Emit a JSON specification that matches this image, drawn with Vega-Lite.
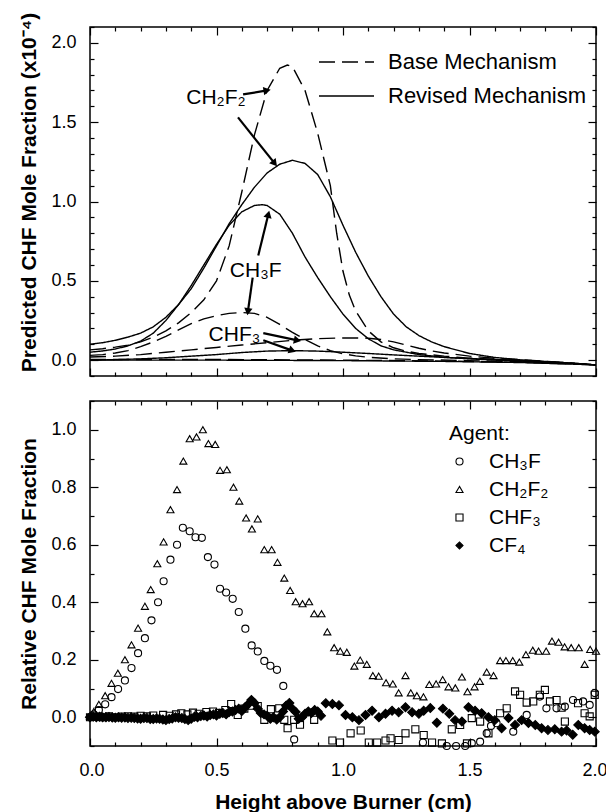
{
  "$schema": "https://vega.github.io/schema/vega-lite/v6.json",
  "background": "white",
  "padding": {"left": 18, "top": 11, "right": 5, "bottom": 0},
  "bounds": "flush",
  "spacing": 25,
  "config": {
    "font": "Liberation Sans",
    "view": {"stroke": "black", "strokeWidth": 1.5},
    "axis": {"domain": false, "grid": false, "tickColor": "black", "tickWidth": 1.2, "labelColor": "black", "titleColor": "black", "labelFont": "Liberation Sans", "titleFont": "Liberation Sans", "labelFontSize": 18, "titleFontSize": 21, "titleFontWeight": "bold", "labelFlush": false, "labelOverlap": false},
    "legend": {"labelFont": "Liberation Sans", "titleFont": "Liberation Sans", "labelColor": "black", "titleColor": "black", "labelLimit": 400}
  },
  "datasets": {
    "curves": [
      {"agent":"CH2F2","mech":"Base Mechanism","x":0,"y":0.065},{"agent":"CH2F2","mech":"Base Mechanism","x":0.05,"y":0.072},{"agent":"CH2F2","mech":"Base Mechanism","x":0.1,"y":0.082},{"agent":"CH2F2","mech":"Base Mechanism","x":0.15,"y":0.095},{"agent":"CH2F2","mech":"Base Mechanism","x":0.2,"y":0.115},{"agent":"CH2F2","mech":"Base Mechanism","x":0.25,"y":0.145},{"agent":"CH2F2","mech":"Base Mechanism","x":0.3,"y":0.185},{"agent":"CH2F2","mech":"Base Mechanism","x":0.35,"y":0.235},{"agent":"CH2F2","mech":"Base Mechanism","x":0.4,"y":0.3},{"agent":"CH2F2","mech":"Base Mechanism","x":0.45,"y":0.38},{"agent":"CH2F2","mech":"Base Mechanism","x":0.5,"y":0.5},{"agent":"CH2F2","mech":"Base Mechanism","x":0.55,"y":0.72},{"agent":"CH2F2","mech":"Base Mechanism","x":0.6,"y":1.06},{"agent":"CH2F2","mech":"Base Mechanism","x":0.65,"y":1.42},{"agent":"CH2F2","mech":"Base Mechanism","x":0.7,"y":1.7},{"agent":"CH2F2","mech":"Base Mechanism","x":0.75,"y":1.84},{"agent":"CH2F2","mech":"Base Mechanism","x":0.78,"y":1.86},{"agent":"CH2F2","mech":"Base Mechanism","x":0.8,"y":1.85},{"agent":"CH2F2","mech":"Base Mechanism","x":0.85,"y":1.7},{"agent":"CH2F2","mech":"Base Mechanism","x":0.9,"y":1.43},{"agent":"CH2F2","mech":"Base Mechanism","x":0.95,"y":1.1},{"agent":"CH2F2","mech":"Base Mechanism","x":0.975,"y":0.8},{"agent":"CH2F2","mech":"Base Mechanism","x":1.0,"y":0.56},{"agent":"CH2F2","mech":"Base Mechanism","x":1.025,"y":0.41},{"agent":"CH2F2","mech":"Base Mechanism","x":1.05,"y":0.31},{"agent":"CH2F2","mech":"Base Mechanism","x":1.1,"y":0.185},{"agent":"CH2F2","mech":"Base Mechanism","x":1.15,"y":0.115},{"agent":"CH2F2","mech":"Base Mechanism","x":1.2,"y":0.078},{"agent":"CH2F2","mech":"Base Mechanism","x":1.25,"y":0.056},{"agent":"CH2F2","mech":"Base Mechanism","x":1.3,"y":0.042},{"agent":"CH2F2","mech":"Base Mechanism","x":1.4,"y":0.025},{"agent":"CH2F2","mech":"Base Mechanism","x":1.5,"y":0.013},{"agent":"CH2F2","mech":"Base Mechanism","x":1.6,"y":0.005},{"agent":"CH2F2","mech":"Base Mechanism","x":1.7,"y":-0.003},{"agent":"CH2F2","mech":"Base Mechanism","x":1.8,"y":-0.01},{"agent":"CH2F2","mech":"Base Mechanism","x":1.9,"y":-0.02},{"agent":"CH2F2","mech":"Base Mechanism","x":2.0,"y":-0.03},
      {"agent":"CH2F2","mech":"Revised Mechanism","x":0,"y":0.1},{"agent":"CH2F2","mech":"Revised Mechanism","x":0.05,"y":0.11},{"agent":"CH2F2","mech":"Revised Mechanism","x":0.1,"y":0.125},{"agent":"CH2F2","mech":"Revised Mechanism","x":0.15,"y":0.145},{"agent":"CH2F2","mech":"Revised Mechanism","x":0.2,"y":0.17},{"agent":"CH2F2","mech":"Revised Mechanism","x":0.25,"y":0.21},{"agent":"CH2F2","mech":"Revised Mechanism","x":0.3,"y":0.27},{"agent":"CH2F2","mech":"Revised Mechanism","x":0.35,"y":0.35},{"agent":"CH2F2","mech":"Revised Mechanism","x":0.4,"y":0.45},{"agent":"CH2F2","mech":"Revised Mechanism","x":0.45,"y":0.58},{"agent":"CH2F2","mech":"Revised Mechanism","x":0.5,"y":0.72},{"agent":"CH2F2","mech":"Revised Mechanism","x":0.55,"y":0.86},{"agent":"CH2F2","mech":"Revised Mechanism","x":0.6,"y":0.98},{"agent":"CH2F2","mech":"Revised Mechanism","x":0.65,"y":1.09},{"agent":"CH2F2","mech":"Revised Mechanism","x":0.7,"y":1.18},{"agent":"CH2F2","mech":"Revised Mechanism","x":0.75,"y":1.235},{"agent":"CH2F2","mech":"Revised Mechanism","x":0.8,"y":1.26},{"agent":"CH2F2","mech":"Revised Mechanism","x":0.85,"y":1.24},{"agent":"CH2F2","mech":"Revised Mechanism","x":0.9,"y":1.17},{"agent":"CH2F2","mech":"Revised Mechanism","x":0.95,"y":1.03},{"agent":"CH2F2","mech":"Revised Mechanism","x":1.0,"y":0.85},{"agent":"CH2F2","mech":"Revised Mechanism","x":1.05,"y":0.68},{"agent":"CH2F2","mech":"Revised Mechanism","x":1.1,"y":0.53},{"agent":"CH2F2","mech":"Revised Mechanism","x":1.15,"y":0.4},{"agent":"CH2F2","mech":"Revised Mechanism","x":1.2,"y":0.29},{"agent":"CH2F2","mech":"Revised Mechanism","x":1.25,"y":0.21},{"agent":"CH2F2","mech":"Revised Mechanism","x":1.3,"y":0.155},{"agent":"CH2F2","mech":"Revised Mechanism","x":1.35,"y":0.115},{"agent":"CH2F2","mech":"Revised Mechanism","x":1.4,"y":0.085},{"agent":"CH2F2","mech":"Revised Mechanism","x":1.5,"y":0.042},{"agent":"CH2F2","mech":"Revised Mechanism","x":1.6,"y":0.017},{"agent":"CH2F2","mech":"Revised Mechanism","x":1.7,"y":0.002},{"agent":"CH2F2","mech":"Revised Mechanism","x":1.8,"y":-0.008},{"agent":"CH2F2","mech":"Revised Mechanism","x":1.9,"y":-0.018},{"agent":"CH2F2","mech":"Revised Mechanism","x":2.0,"y":-0.03},
      {"agent":"CH3F","mech":"Revised Mechanism","x":0,"y":0.05},{"agent":"CH3F","mech":"Revised Mechanism","x":0.05,"y":0.058},{"agent":"CH3F","mech":"Revised Mechanism","x":0.1,"y":0.07},{"agent":"CH3F","mech":"Revised Mechanism","x":0.15,"y":0.09},{"agent":"CH3F","mech":"Revised Mechanism","x":0.2,"y":0.12},{"agent":"CH3F","mech":"Revised Mechanism","x":0.25,"y":0.17},{"agent":"CH3F","mech":"Revised Mechanism","x":0.3,"y":0.25},{"agent":"CH3F","mech":"Revised Mechanism","x":0.35,"y":0.35},{"agent":"CH3F","mech":"Revised Mechanism","x":0.4,"y":0.47},{"agent":"CH3F","mech":"Revised Mechanism","x":0.45,"y":0.6},{"agent":"CH3F","mech":"Revised Mechanism","x":0.5,"y":0.73},{"agent":"CH3F","mech":"Revised Mechanism","x":0.55,"y":0.85},{"agent":"CH3F","mech":"Revised Mechanism","x":0.6,"y":0.935},{"agent":"CH3F","mech":"Revised Mechanism","x":0.65,"y":0.975},{"agent":"CH3F","mech":"Revised Mechanism","x":0.68,"y":0.98},{"agent":"CH3F","mech":"Revised Mechanism","x":0.7,"y":0.975},{"agent":"CH3F","mech":"Revised Mechanism","x":0.75,"y":0.92},{"agent":"CH3F","mech":"Revised Mechanism","x":0.8,"y":0.8},{"agent":"CH3F","mech":"Revised Mechanism","x":0.85,"y":0.65},{"agent":"CH3F","mech":"Revised Mechanism","x":0.9,"y":0.52},{"agent":"CH3F","mech":"Revised Mechanism","x":0.95,"y":0.4},{"agent":"CH3F","mech":"Revised Mechanism","x":1.0,"y":0.29},{"agent":"CH3F","mech":"Revised Mechanism","x":1.05,"y":0.2},{"agent":"CH3F","mech":"Revised Mechanism","x":1.1,"y":0.135},{"agent":"CH3F","mech":"Revised Mechanism","x":1.15,"y":0.09},{"agent":"CH3F","mech":"Revised Mechanism","x":1.2,"y":0.065},{"agent":"CH3F","mech":"Revised Mechanism","x":1.3,"y":0.035},{"agent":"CH3F","mech":"Revised Mechanism","x":1.4,"y":0.018},{"agent":"CH3F","mech":"Revised Mechanism","x":1.5,"y":0.008},{"agent":"CH3F","mech":"Revised Mechanism","x":1.6,"y":0},{"agent":"CH3F","mech":"Revised Mechanism","x":1.7,"y":-0.006},{"agent":"CH3F","mech":"Revised Mechanism","x":1.8,"y":-0.012},{"agent":"CH3F","mech":"Revised Mechanism","x":1.9,"y":-0.02},{"agent":"CH3F","mech":"Revised Mechanism","x":2.0,"y":-0.03},
      {"agent":"CH3F","mech":"Base Mechanism","x":0,"y":0.03},{"agent":"CH3F","mech":"Base Mechanism","x":0.05,"y":0.035},{"agent":"CH3F","mech":"Base Mechanism","x":0.1,"y":0.045},{"agent":"CH3F","mech":"Base Mechanism","x":0.15,"y":0.06},{"agent":"CH3F","mech":"Base Mechanism","x":0.2,"y":0.085},{"agent":"CH3F","mech":"Base Mechanism","x":0.25,"y":0.115},{"agent":"CH3F","mech":"Base Mechanism","x":0.3,"y":0.15},{"agent":"CH3F","mech":"Base Mechanism","x":0.35,"y":0.19},{"agent":"CH3F","mech":"Base Mechanism","x":0.4,"y":0.23},{"agent":"CH3F","mech":"Base Mechanism","x":0.45,"y":0.26},{"agent":"CH3F","mech":"Base Mechanism","x":0.5,"y":0.28},{"agent":"CH3F","mech":"Base Mechanism","x":0.55,"y":0.295},{"agent":"CH3F","mech":"Base Mechanism","x":0.6,"y":0.3},{"agent":"CH3F","mech":"Base Mechanism","x":0.65,"y":0.295},{"agent":"CH3F","mech":"Base Mechanism","x":0.7,"y":0.27},{"agent":"CH3F","mech":"Base Mechanism","x":0.75,"y":0.225},{"agent":"CH3F","mech":"Base Mechanism","x":0.8,"y":0.175},{"agent":"CH3F","mech":"Base Mechanism","x":0.85,"y":0.13},{"agent":"CH3F","mech":"Base Mechanism","x":0.9,"y":0.09},{"agent":"CH3F","mech":"Base Mechanism","x":0.95,"y":0.06},{"agent":"CH3F","mech":"Base Mechanism","x":1.0,"y":0.04},{"agent":"CH3F","mech":"Base Mechanism","x":1.05,"y":0.027},{"agent":"CH3F","mech":"Base Mechanism","x":1.1,"y":0.018},{"agent":"CH3F","mech":"Base Mechanism","x":1.2,"y":0.008},{"agent":"CH3F","mech":"Base Mechanism","x":1.3,"y":0.003},{"agent":"CH3F","mech":"Base Mechanism","x":1.5,"y":-0.003},{"agent":"CH3F","mech":"Base Mechanism","x":1.7,"y":-0.01},{"agent":"CH3F","mech":"Base Mechanism","x":1.85,"y":-0.018},{"agent":"CH3F","mech":"Base Mechanism","x":2.0,"y":-0.03},
      {"agent":"CHF3","mech":"Base Mechanism","x":0,"y":0.02},{"agent":"CHF3","mech":"Base Mechanism","x":0.1,"y":0.025},{"agent":"CHF3","mech":"Base Mechanism","x":0.2,"y":0.035},{"agent":"CHF3","mech":"Base Mechanism","x":0.3,"y":0.05},{"agent":"CHF3","mech":"Base Mechanism","x":0.4,"y":0.065},{"agent":"CHF3","mech":"Base Mechanism","x":0.5,"y":0.08},{"agent":"CHF3","mech":"Base Mechanism","x":0.6,"y":0.095},{"agent":"CHF3","mech":"Base Mechanism","x":0.7,"y":0.11},{"agent":"CHF3","mech":"Base Mechanism","x":0.8,"y":0.125},{"agent":"CHF3","mech":"Base Mechanism","x":0.9,"y":0.135},{"agent":"CHF3","mech":"Base Mechanism","x":1.0,"y":0.14},{"agent":"CHF3","mech":"Base Mechanism","x":1.05,"y":0.14},{"agent":"CHF3","mech":"Base Mechanism","x":1.1,"y":0.138},{"agent":"CHF3","mech":"Base Mechanism","x":1.15,"y":0.13},{"agent":"CHF3","mech":"Base Mechanism","x":1.2,"y":0.115},{"agent":"CHF3","mech":"Base Mechanism","x":1.25,"y":0.095},{"agent":"CHF3","mech":"Base Mechanism","x":1.3,"y":0.075},{"agent":"CHF3","mech":"Base Mechanism","x":1.35,"y":0.058},{"agent":"CHF3","mech":"Base Mechanism","x":1.4,"y":0.045},{"agent":"CHF3","mech":"Base Mechanism","x":1.5,"y":0.025},{"agent":"CHF3","mech":"Base Mechanism","x":1.6,"y":0.012},{"agent":"CHF3","mech":"Base Mechanism","x":1.7,"y":0.003},{"agent":"CHF3","mech":"Base Mechanism","x":1.8,"y":-0.008},{"agent":"CHF3","mech":"Base Mechanism","x":1.9,"y":-0.018},{"agent":"CHF3","mech":"Base Mechanism","x":2.0,"y":-0.03},
      {"agent":"CHF3","mech":"Revised Mechanism","x":0,"y":0},{"agent":"CHF3","mech":"Revised Mechanism","x":0.1,"y":0.003},{"agent":"CHF3","mech":"Revised Mechanism","x":0.2,"y":0.008},{"agent":"CHF3","mech":"Revised Mechanism","x":0.3,"y":0.015},{"agent":"CHF3","mech":"Revised Mechanism","x":0.4,"y":0.025},{"agent":"CHF3","mech":"Revised Mechanism","x":0.5,"y":0.035},{"agent":"CHF3","mech":"Revised Mechanism","x":0.6,"y":0.048},{"agent":"CHF3","mech":"Revised Mechanism","x":0.7,"y":0.057},{"agent":"CHF3","mech":"Revised Mechanism","x":0.8,"y":0.06},{"agent":"CHF3","mech":"Revised Mechanism","x":0.9,"y":0.057},{"agent":"CHF3","mech":"Revised Mechanism","x":1.0,"y":0.05},{"agent":"CHF3","mech":"Revised Mechanism","x":1.1,"y":0.042},{"agent":"CHF3","mech":"Revised Mechanism","x":1.2,"y":0.033},{"agent":"CHF3","mech":"Revised Mechanism","x":1.3,"y":0.025},{"agent":"CHF3","mech":"Revised Mechanism","x":1.4,"y":0.017},{"agent":"CHF3","mech":"Revised Mechanism","x":1.5,"y":0.01},{"agent":"CHF3","mech":"Revised Mechanism","x":1.6,"y":0.004},{"agent":"CHF3","mech":"Revised Mechanism","x":1.7,"y":-0.002},{"agent":"CHF3","mech":"Revised Mechanism","x":1.8,"y":-0.01},{"agent":"CHF3","mech":"Revised Mechanism","x":1.9,"y":-0.02},{"agent":"CHF3","mech":"Revised Mechanism","x":2.0,"y":-0.03},
      {"agent":"CF4","mech":"Revised Mechanism","x":0,"y":0},{"agent":"CF4","mech":"Revised Mechanism","x":0.5,"y":0},{"agent":"CF4","mech":"Revised Mechanism","x":1.0,"y":-0.003},{"agent":"CF4","mech":"Revised Mechanism","x":1.4,"y":-0.008},{"agent":"CF4","mech":"Revised Mechanism","x":1.7,"y":-0.015},{"agent":"CF4","mech":"Revised Mechanism","x":2.0,"y":-0.03},
      {"agent":"CF4","mech":"Base Mechanism","x":0,"y":0.004},{"agent":"CF4","mech":"Base Mechanism","x":0.5,"y":0.004},{"agent":"CF4","mech":"Base Mechanism","x":1.0,"y":0.0},{"agent":"CF4","mech":"Base Mechanism","x":1.4,"y":-0.006},{"agent":"CF4","mech":"Base Mechanism","x":1.7,"y":-0.014},{"agent":"CF4","mech":"Base Mechanism","x":2.0,"y":-0.03}
    ],
    "notes": [
      {"label":"CH₂F₂","x":0.498,"y":1.65},
      {"label":"CH₃F","x":0.655,"y":0.563},
      {"label":"CHF₃","x":0.571,"y":0.158}
    ],
    "arrows": [
      {"x":0.605,"y":1.675,"x2":0.7,"y2":1.7},
      {"x":0.585,"y":1.53,"x2":0.73,"y2":1.24},
      {"x":0.665,"y":0.66,"x2":0.705,"y2":0.92},
      {"x":0.643,"y":0.52,"x2":0.624,"y2":0.305},
      {"x":0.685,"y":0.17,"x2":0.82,"y2":0.125},
      {"x":0.685,"y":0.125,"x2":0.8,"y2":0.06}
    ],
    "points": [
      {"agent":"CH₂F₂","x":0.0,"y":0.003},{"agent":"CH₂F₂","x":0.015,"y":0.02},{"agent":"CH₂F₂","x":0.035,"y":0.045},{"agent":"CH₂F₂","x":0.06,"y":0.075},{"agent":"CH₂F₂","x":0.085,"y":0.118},{"agent":"CH₂F₂","x":0.11,"y":0.153},{"agent":"CH₂F₂","x":0.138,"y":0.2},{"agent":"CH₂F₂","x":0.164,"y":0.252},{"agent":"CH₂F₂","x":0.19,"y":0.31},{"agent":"CH₂F₂","x":0.217,"y":0.386},{"agent":"CH₂F₂","x":0.24,"y":0.444},{"agent":"CH₂F₂","x":0.266,"y":0.534},{"agent":"CH₂F₂","x":0.291,"y":0.61},{"agent":"CH₂F₂","x":0.318,"y":0.722},{"agent":"CH₂F₂","x":0.344,"y":0.792},{"agent":"CH₂F₂","x":0.369,"y":0.891},{"agent":"CH₂F₂","x":0.394,"y":0.969},{"agent":"CH₂F₂","x":0.421,"y":0.975},{"agent":"CH₂F₂","x":0.446,"y":1.0},{"agent":"CH₂F₂","x":0.468,"y":0.952},{"agent":"CH₂F₂","x":0.495,"y":0.949},{"agent":"CH₂F₂","x":0.514,"y":0.859},{"agent":"CH₂F₂","x":0.541,"y":0.861},{"agent":"CH₂F₂","x":0.567,"y":0.8},{"agent":"CH₂F₂","x":0.59,"y":0.752},{"agent":"CH₂F₂","x":0.617,"y":0.693},{"agent":"CH₂F₂","x":0.64,"y":0.655},{"agent":"CH₂F₂","x":0.663,"y":0.69},{"agent":"CH₂F₂","x":0.689,"y":0.583},{"agent":"CH₂F₂","x":0.718,"y":0.583},{"agent":"CH₂F₂","x":0.741,"y":0.539},{"agent":"CH₂F₂","x":0.768,"y":0.484},{"agent":"CH₂F₂","x":0.791,"y":0.441},{"agent":"CH₂F₂","x":0.813,"y":0.402},{"agent":"CH₂F₂","x":0.84,"y":0.395},{"agent":"CH₂F₂","x":0.866,"y":0.402},{"agent":"CH₂F₂","x":0.886,"y":0.36},{"agent":"CH₂F₂","x":0.915,"y":0.36},{"agent":"CH₂F₂","x":0.938,"y":0.297},{"agent":"CH₂F₂","x":0.965,"y":0.242},{"agent":"CH₂F₂","x":0.989,"y":0.23},{"agent":"CH₂F₂","x":1.015,"y":0.226},{"agent":"CH₂F₂","x":1.045,"y":0.178},{"agent":"CH₂F₂","x":1.068,"y":0.199},{"agent":"CH₂F₂","x":1.094,"y":0.184},{"agent":"CH₂F₂","x":1.118,"y":0.145},{"agent":"CH₂F₂","x":1.141,"y":0.143},{"agent":"CH₂F₂","x":1.17,"y":0.12},{"agent":"CH₂F₂","x":1.197,"y":0.116},{"agent":"CH₂F₂","x":1.22,"y":0.085},{"agent":"CH₂F₂","x":1.247,"y":0.145},{"agent":"CH₂F₂","x":1.268,"y":0.085},{"agent":"CH₂F₂","x":1.292,"y":0.075},{"agent":"CH₂F₂","x":1.318,"y":0.071},{"agent":"CH₂F₂","x":1.341,"y":0.114},{"agent":"CH₂F₂","x":1.368,"y":0.116},{"agent":"CH₂F₂","x":1.394,"y":0.131},{"agent":"CH₂F₂","x":1.417,"y":0.106},{"agent":"CH₂F₂","x":1.444,"y":0.102},{"agent":"CH₂F₂","x":1.47,"y":0.14},{"agent":"CH₂F₂","x":1.492,"y":0.089},{"agent":"CH₂F₂","x":1.52,"y":0.106},{"agent":"CH₂F₂","x":1.541,"y":0.125},{"agent":"CH₂F₂","x":1.568,"y":0.157},{"agent":"CH₂F₂","x":1.595,"y":0.145},{"agent":"CH₂F₂","x":1.621,"y":0.197},{"agent":"CH₂F₂","x":1.644,"y":0.197},{"agent":"CH₂F₂","x":1.671,"y":0.197},{"agent":"CH₂F₂","x":1.697,"y":0.192},{"agent":"CH₂F₂","x":1.723,"y":0.218},{"agent":"CH₂F₂","x":1.75,"y":0.233},{"agent":"CH₂F₂","x":1.773,"y":0.23},{"agent":"CH₂F₂","x":1.803,"y":0.23},{"agent":"CH₂F₂","x":1.826,"y":0.265},{"agent":"CH₂F₂","x":1.852,"y":0.261},{"agent":"CH₂F₂","x":1.876,"y":0.245},{"agent":"CH₂F₂","x":1.902,"y":0.242},{"agent":"CH₂F₂","x":1.932,"y":0.242},{"agent":"CH₂F₂","x":1.955,"y":0.184},{"agent":"CH₂F₂","x":1.977,"y":0.236},{"agent":"CH₂F₂","x":2.0,"y":0.23},
      {"agent":"CH₃F","x":0.0,"y":0.0},{"agent":"CH₃F","x":0.015,"y":0.01},{"agent":"CH₃F","x":0.035,"y":0.025},{"agent":"CH₃F","x":0.06,"y":0.045},{"agent":"CH₃F","x":0.085,"y":0.07},{"agent":"CH₃F","x":0.111,"y":0.098},{"agent":"CH₃F","x":0.138,"y":0.128},{"agent":"CH₃F","x":0.164,"y":0.171},{"agent":"CH₃F","x":0.19,"y":0.223},{"agent":"CH₃F","x":0.217,"y":0.275},{"agent":"CH₃F","x":0.243,"y":0.337},{"agent":"CH₃F","x":0.269,"y":0.4},{"agent":"CH₃F","x":0.291,"y":0.473},{"agent":"CH₃F","x":0.318,"y":0.548},{"agent":"CH₃F","x":0.344,"y":0.6},{"agent":"CH₃F","x":0.367,"y":0.659},{"agent":"CH₃F","x":0.394,"y":0.647},{"agent":"CH₃F","x":0.417,"y":0.626},{"agent":"CH₃F","x":0.442,"y":0.624},{"agent":"CH₃F","x":0.466,"y":0.557},{"agent":"CH₃F","x":0.492,"y":0.531},{"agent":"CH₃F","x":0.514,"y":0.447},{"agent":"CH₃F","x":0.538,"y":0.434},{"agent":"CH₃F","x":0.564,"y":0.412},{"agent":"CH₃F","x":0.588,"y":0.366},{"agent":"CH₃F","x":0.614,"y":0.308},{"agent":"CH₃F","x":0.639,"y":0.25},{"agent":"CH₃F","x":0.663,"y":0.229},{"agent":"CH₃F","x":0.689,"y":0.196},{"agent":"CH₃F","x":0.713,"y":0.179},{"agent":"CH₃F","x":0.739,"y":0.165},{"agent":"CH₃F","x":0.764,"y":0.109},{"agent":"CH₃F","x":0.807,"y":-0.077},{"agent":"CH₃F","x":1.316,"y":-0.088},{"agent":"CH₃F","x":1.41,"y":-0.1},{"agent":"CH₃F","x":1.447,"y":-0.1},{"agent":"CH₃F","x":1.483,"y":-0.1},{"agent":"CH₃F","x":1.509,"y":-0.09},{"agent":"CH₃F","x":1.542,"y":-0.085},{"agent":"CH₃F","x":1.568,"y":-0.056},{"agent":"CH₃F","x":1.585,"y":-0.03},{"agent":"CH₃F","x":1.607,"y":-0.021},{"agent":"CH₃F","x":1.673,"y":-0.05},{"agent":"CH₃F","x":1.726,"y":0.008},{"agent":"CH₃F","x":1.778,"y":0.072},{"agent":"CH₃F","x":1.804,"y":0.031},{"agent":"CH₃F","x":1.844,"y":0.031},{"agent":"CH₃F","x":1.877,"y":0.037},{"agent":"CH₃F","x":1.909,"y":0.06},{"agent":"CH₃F","x":1.949,"y":0.055},{"agent":"CH₃F","x":1.975,"y":0.043},{"agent":"CH₃F","x":1.995,"y":0.084},
      {"agent":"CHF₃","x":0.0,"y":0.0},{"agent":"CHF₃","x":0.025,"y":0.002},{"agent":"CHF₃","x":0.05,"y":0.0},{"agent":"CHF₃","x":0.075,"y":0.003},{"agent":"CHF₃","x":0.1,"y":0.0},{"agent":"CHF₃","x":0.125,"y":0.002},{"agent":"CHF₃","x":0.15,"y":0.003},{"agent":"CHF₃","x":0.175,"y":0.002},{"agent":"CHF₃","x":0.2,"y":0.005},{"agent":"CHF₃","x":0.225,"y":0.003},{"agent":"CHF₃","x":0.25,"y":0.006},{"agent":"CHF₃","x":0.289,"y":0.008},{"agent":"CHF₃","x":0.315,"y":0.005},{"agent":"CHF₃","x":0.34,"y":0.01},{"agent":"CHF₃","x":0.361,"y":0.014},{"agent":"CHF₃","x":0.385,"y":0.01},{"agent":"CHF₃","x":0.407,"y":0.016},{"agent":"CHF₃","x":0.43,"y":0.012},{"agent":"CHF₃","x":0.46,"y":0.018},{"agent":"CHF₃","x":0.486,"y":0.02},{"agent":"CHF₃","x":0.51,"y":0.015},{"agent":"CHF₃","x":0.535,"y":0.025},{"agent":"CHF₃","x":0.558,"y":0.046},{"agent":"CHF₃","x":0.584,"y":0.008},{"agent":"CHF₃","x":0.61,"y":0.03},{"agent":"CHF₃","x":0.637,"y":0.04},{"agent":"CHF₃","x":0.663,"y":0.039},{"agent":"CHF₃","x":0.689,"y":-0.009},{"agent":"CHF₃","x":0.715,"y":0.028},{"agent":"CHF₃","x":0.748,"y":0.031},{"agent":"CHF₃","x":0.768,"y":-0.009},{"agent":"CHF₃","x":0.781,"y":-0.038},{"agent":"CHF₃","x":0.807,"y":-0.009},{"agent":"CHF₃","x":0.83,"y":-0.026},{"agent":"CHF₃","x":0.886,"y":-0.009},{"agent":"CHF₃","x":0.958,"y":-0.081},{"agent":"CHF₃","x":0.988,"y":-0.088},{"agent":"CHF₃","x":1.03,"y":-0.056},{"agent":"CHF₃","x":1.07,"y":-0.046},{"agent":"CHF₃","x":1.102,"y":-0.088},{"agent":"CHF₃","x":1.135,"y":-0.088},{"agent":"CHF₃","x":1.168,"y":-0.081},{"agent":"CHF₃","x":1.188,"y":-0.073},{"agent":"CHF₃","x":1.22,"y":-0.079},{"agent":"CHF₃","x":1.247,"y":-0.056},{"agent":"CHF₃","x":1.286,"y":-0.042},{"agent":"CHF₃","x":1.319,"y":-0.062},{"agent":"CHF₃","x":1.352,"y":-0.088},{"agent":"CHF₃","x":1.391,"y":-0.091},{"agent":"CHF₃","x":1.43,"y":-0.042},{"agent":"CHF₃","x":1.463,"y":-0.027},{"agent":"CHF₃","x":1.49,"y":-0.091},{"agent":"CHF₃","x":1.509,"y":-0.003},{"agent":"CHF₃","x":1.542,"y":-0.015},{"agent":"CHF₃","x":1.575,"y":-0.056},{"agent":"CHF₃","x":1.621,"y":0.014},{"agent":"CHF₃","x":1.647,"y":0.031},{"agent":"CHF₃","x":1.68,"y":0.09},{"agent":"CHF₃","x":1.7,"y":0.078},{"agent":"CHF₃","x":1.726,"y":0.051},{"agent":"CHF₃","x":1.752,"y":0.055},{"agent":"CHF₃","x":1.778,"y":0.078},{"agent":"CHF₃","x":1.798,"y":0.095},{"agent":"CHF₃","x":1.818,"y":0.055},{"agent":"CHF₃","x":1.844,"y":0.06},{"agent":"CHF₃","x":1.864,"y":0.033},{"agent":"CHF₃","x":1.877,"y":-0.015},{"agent":"CHF₃","x":1.929,"y":0.049},{"agent":"CHF₃","x":1.955,"y":0.014},{"agent":"CHF₃","x":1.975,"y":0.003},{"agent":"CHF₃","x":1.995,"y":0.078},
      {"agent":"CF₄","x":0.0,"y":0.0},{"agent":"CF₄","x":0.013,"y":0.003},{"agent":"CF₄","x":0.025,"y":0.0},{"agent":"CF₄","x":0.038,"y":0.002},{"agent":"CF₄","x":0.05,"y":0.0},{"agent":"CF₄","x":0.063,"y":0.0},{"agent":"CF₄","x":0.075,"y":0.001},{"agent":"CF₄","x":0.088,"y":-0.001},{"agent":"CF₄","x":0.1,"y":-0.002},{"agent":"CF₄","x":0.113,"y":0.0},{"agent":"CF₄","x":0.125,"y":-0.002},{"agent":"CF₄","x":0.138,"y":-0.001},{"agent":"CF₄","x":0.15,"y":-0.003},{"agent":"CF₄","x":0.163,"y":-0.002},{"agent":"CF₄","x":0.175,"y":-0.003},{"agent":"CF₄","x":0.188,"y":-0.004},{"agent":"CF₄","x":0.2,"y":-0.005},{"agent":"CF₄","x":0.213,"y":-0.003},{"agent":"CF₄","x":0.225,"y":-0.003},{"agent":"CF₄","x":0.238,"y":-0.006},{"agent":"CF₄","x":0.25,"y":-0.006},{"agent":"CF₄","x":0.263,"y":-0.004},{"agent":"CF₄","x":0.275,"y":-0.005},{"agent":"CF₄","x":0.288,"y":-0.008},{"agent":"CF₄","x":0.3,"y":-0.01},{"agent":"CF₄","x":0.313,"y":-0.006},{"agent":"CF₄","x":0.325,"y":-0.004},{"agent":"CF₄","x":0.338,"y":0.0},{"agent":"CF₄","x":0.35,"y":-0.002},{"agent":"CF₄","x":0.363,"y":-0.003},{"agent":"CF₄","x":0.375,"y":-0.006},{"agent":"CF₄","x":0.388,"y":-0.01},{"agent":"CF₄","x":0.4,"y":-0.005},{"agent":"CF₄","x":0.413,"y":0.002},{"agent":"CF₄","x":0.425,"y":0.0},{"agent":"CF₄","x":0.438,"y":0.004},{"agent":"CF₄","x":0.45,"y":0.006},{"agent":"CF₄","x":0.463,"y":0.003},{"agent":"CF₄","x":0.475,"y":0.008},{"agent":"CF₄","x":0.488,"y":0.01},{"agent":"CF₄","x":0.5,"y":0.006},{"agent":"CF₄","x":0.513,"y":0.012},{"agent":"CF₄","x":0.525,"y":0.015},{"agent":"CF₄","x":0.538,"y":0.01},{"agent":"CF₄","x":0.55,"y":0.018},{"agent":"CF₄","x":0.563,"y":0.02},{"agent":"CF₄","x":0.575,"y":0.025},{"agent":"CF₄","x":0.588,"y":0.03},{"agent":"CF₄","x":0.6,"y":0.022},{"agent":"CF₄","x":0.613,"y":0.035},{"agent":"CF₄","x":0.625,"y":0.045},{"agent":"CF₄","x":0.638,"y":0.06},{"agent":"CF₄","x":0.65,"y":0.05},{"agent":"CF₄","x":0.663,"y":0.03},{"agent":"CF₄","x":0.675,"y":0.015},{"agent":"CF₄","x":0.688,"y":0.01},{"agent":"CF₄","x":0.7,"y":0.005},{"agent":"CF₄","x":0.713,"y":-0.005},{"agent":"CF₄","x":0.725,"y":0.0},{"agent":"CF₄","x":0.738,"y":-0.008},{"agent":"CF₄","x":0.75,"y":0.0},{"agent":"CF₄","x":0.763,"y":0.02},{"agent":"CF₄","x":0.775,"y":0.04},{"agent":"CF₄","x":0.788,"y":0.05},{"agent":"CF₄","x":0.8,"y":0.03},{"agent":"CF₄","x":0.813,"y":0.018},{"agent":"CF₄","x":0.825,"y":-0.005},{"agent":"CF₄","x":0.838,"y":0.0},{"agent":"CF₄","x":0.85,"y":0.012},{"agent":"CF₄","x":0.863,"y":0.02},{"agent":"CF₄","x":0.875,"y":0.015},{"agent":"CF₄","x":0.888,"y":0.025},{"agent":"CF₄","x":0.9,"y":0.02},{"agent":"CF₄","x":0.913,"y":0.005},{"agent":"CF₄","x":0.932,"y":0.049},{"agent":"CF₄","x":0.958,"y":0.046},{"agent":"CF₄","x":0.984,"y":0.042},{"agent":"CF₄","x":1.01,"y":0.008},{"agent":"CF₄","x":1.037,"y":0.0},{"agent":"CF₄","x":1.063,"y":-0.01},{"agent":"CF₄","x":1.089,"y":0.008},{"agent":"CF₄","x":1.115,"y":0.023},{"agent":"CF₄","x":1.142,"y":0.0},{"agent":"CF₄","x":1.168,"y":0.012},{"agent":"CF₄","x":1.194,"y":0.023},{"agent":"CF₄","x":1.22,"y":0.017},{"agent":"CF₄","x":1.247,"y":0.035},{"agent":"CF₄","x":1.273,"y":0.017},{"agent":"CF₄","x":1.3,"y":0.012},{"agent":"CF₄","x":1.319,"y":0.023},{"agent":"CF₄","x":1.345,"y":0.032},{"agent":"CF₄","x":1.371,"y":-0.019},{"agent":"CF₄","x":1.395,"y":0.03},{"agent":"CF₄","x":1.42,"y":0.012},{"agent":"CF₄","x":1.443,"y":-0.01},{"agent":"CF₄","x":1.47,"y":-0.015},{"agent":"CF₄","x":1.496,"y":0.035},{"agent":"CF₄","x":1.522,"y":0.023},{"agent":"CF₄","x":1.548,"y":0.014},{"agent":"CF₄","x":1.575,"y":0.0},{"agent":"CF₄","x":1.6,"y":-0.01},{"agent":"CF₄","x":1.627,"y":-0.038},{"agent":"CF₄","x":1.654,"y":-0.003},{"agent":"CF₄","x":1.68,"y":-0.027},{"agent":"CF₄","x":1.706,"y":-0.01},{"agent":"CF₄","x":1.733,"y":-0.02},{"agent":"CF₄","x":1.76,"y":-0.027},{"agent":"CF₄","x":1.785,"y":-0.038},{"agent":"CF₄","x":1.81,"y":-0.044},{"agent":"CF₄","x":1.837,"y":-0.042},{"agent":"CF₄","x":1.864,"y":-0.05},{"agent":"CF₄","x":1.884,"y":-0.046},{"agent":"CF₄","x":1.908,"y":-0.061},{"agent":"CF₄","x":1.93,"y":-0.027},{"agent":"CF₄","x":1.955,"y":-0.038},{"agent":"CF₄","x":1.975,"y":-0.044},{"agent":"CF₄","x":1.995,"y":-0.05}
    ]
  },
  "vconcat": [
    {
      "width": 506,
      "height": 349,
      "layer": [
        {
          "data": {"name": "curves"},
          "mark": {"type": "line", "color": "black", "strokeWidth": 1.4},
          "encoding": {
            "x": {"field": "x", "type": "quantitative", "scale": {"domain": [0, 2], "nice": false, "zero": false}, "axis": {"orient": "bottom", "values": [0, 0.5, 1, 1.5, 2], "tickSize": -8, "labels": false, "title": null}},
            "y": {"field": "y", "type": "quantitative", "scale": {"domain": [-0.1, 2.1], "nice": false, "zero": false}, "axis": {"orient": "left", "values": [0, 0.5, 1, 1.5, 2], "tickSize": -8, "labelPadding": 22, "format": ".1f", "title": "Predicted CHF Mole Fraction (x10⁻⁴)", "titlePadding": 11, "titleY": 165}},
            "detail": {"field": "agent"},
            "strokeDash": {"field": "mech", "type": "nominal", "scale": {"domain": ["Base Mechanism", "Revised Mechanism"], "range": [[16, 7], [1, 0]]}, "legend": {"orient": "none", "legendX": 228, "legendY": 18, "title": null, "symbolType": "stroke", "symbolSize": 3025, "symbolStrokeWidth": 1.5, "symbolStrokeColor": "black", "labelFontSize": 22, "labelOffset": 13, "labelLimit": 400, "clipHeight": 34, "rowPadding": 0}}
          }
        },
        {
          "data": {"name": "curves"},
          "mark": {"type": "point", "opacity": 0},
          "encoding": {
            "x": {"field": "x", "type": "quantitative", "axis": {"orient": "bottom", "values": [0.1,0.2,0.3,0.4,0.6,0.7,0.8,0.9,1.1,1.2,1.3,1.4,1.6,1.7,1.8,1.9], "tickSize": -4, "labels": false, "title": null}},
            "y": {"field": "y", "type": "quantitative", "axis": {"orient": "left", "values": [-0.1,0.1,0.2,0.3,0.4,0.6,0.7,0.8,0.9,1.1,1.2,1.3,1.4,1.6,1.7,1.8,1.9,2.1], "tickSize": -4, "labels": false, "title": null}}
          }
        },
        {
          "data": {"name": "curves"},
          "mark": {"type": "point", "opacity": 0},
          "encoding": {
            "x": {"field": "x", "type": "quantitative", "axis": {"orient": "top", "values": [0, 0.5, 1, 1.5, 2], "tickSize": -8, "labels": false, "title": null}},
            "y": {"field": "y", "type": "quantitative", "axis": {"orient": "right", "values": [0, 0.5, 1, 1.5, 2], "tickSize": -8, "labels": false, "title": null}}
          }
        },
        {
          "data": {"name": "curves"},
          "mark": {"type": "point", "opacity": 0},
          "encoding": {
            "x": {"field": "x", "type": "quantitative", "axis": {"orient": "top", "values": [0.1,0.2,0.3,0.4,0.6,0.7,0.8,0.9,1.1,1.2,1.3,1.4,1.6,1.7,1.8,1.9], "tickSize": -4, "labels": false, "title": null}},
            "y": {"field": "y", "type": "quantitative", "axis": {"orient": "right", "values": [-0.1,0.1,0.2,0.3,0.4,0.6,0.7,0.8,0.9,1.1,1.2,1.3,1.4,1.6,1.7,1.8,1.9,2.1], "tickSize": -4, "labels": false, "title": null}}
          }
        },
        {
          "data": {"name": "notes"},
          "mark": {"type": "text", "fontSize": 21, "font": "Liberation Sans", "color": "black", "align": "center", "baseline": "middle"},
          "encoding": {
            "x": {"field": "x", "type": "quantitative", "axis": null},
            "y": {"field": "y", "type": "quantitative", "axis": null},
            "text": {"field": "label"}
          }
        },
        {
          "data": {"name": "arrows"},
          "mark": {"type": "rule", "color": "black", "strokeWidth": 2.2},
          "encoding": {
            "x": {"field": "x", "type": "quantitative", "axis": null},
            "y": {"field": "y", "type": "quantitative", "axis": null},
            "x2": {"field": "x2"},
            "y2": {"field": "y2"}
          }
        },
        {
          "data": {"name": "arrows"},
          "transform": [{"calculate": "atan2((datum.x2 - datum.x) * 253, (datum.y2 - datum.y) * 158) * 180 / PI", "as": "ang"}],
          "mark": {"type": "point", "shape": "triangle-up", "filled": true, "color": "black", "opacity": 1, "size": 70},
          "encoding": {
            "x": {"field": "x2", "type": "quantitative", "axis": null},
            "y": {"field": "y2", "type": "quantitative", "axis": null},
            "angle": {"field": "ang", "type": "quantitative", "scale": null}
          }
        }
      ],
      "resolve": {"axis": {"x": "independent", "y": "independent"}}
    },
    {
      "width": 506,
      "height": 345,
      "data": {"name": "points"},
      "layer": [
        {
          "transform": [{"filter": "datum.agent !== 'CF₄'"}],
          "mark": {"type": "point", "strokeWidth": 1.1, "opacity": 1, "size": 50},
          "encoding": {
            "x": {"field": "x", "type": "quantitative", "scale": {"domain": [0, 2], "nice": false, "zero": false}, "axis": {"orient": "bottom", "values": [0, 0.5, 1, 1.5, 2], "tickSize": -8, "labelPadding": 23, "format": ".1f", "labelFlush": true, "labelFlushOffset": 11, "title": "Height above Burner (cm)", "titlePadding": 12}},
            "y": {"field": "y", "type": "quantitative", "scale": {"domain": [-0.1, 1.1], "nice": false, "zero": false}, "axis": {"orient": "left", "values": [0, 0.2, 0.4, 0.6, 0.8, 1.0], "tickSize": -8, "labelPadding": 22, "format": ".1f", "title": "Relative CHF Mole Fraction", "titlePadding": 11}},
            "shape": {"field": "agent", "type": "nominal", "scale": {"domain": ["CH₃F", "CH₂F₂", "CHF₃", "CF₄"], "range": ["circle", "triangle-up", "square", "diamond"]}, "legend": {"orient": "none", "legendX": 359, "legendY": 396, "title": "Agent:", "titleFontSize": 21, "titleFontWeight": "normal", "titlePadding": 7, "labelFontSize": 21, "labelOffset": 19, "symbolStrokeWidth": 1.1, "symbolSize": 50, "rowPadding": 6}},
            "fill": {"field": "agent", "type": "nominal", "scale": {"domain": ["CH₃F", "CH₂F₂", "CHF₃", "CF₄"], "range": ["transparent", "transparent", "transparent", "black"]}, "legend": {"title": "Agent:"}},
            "stroke": {"field": "agent", "type": "nominal", "scale": {"domain": ["CH₃F", "CH₂F₂", "CHF₃", "CF₄"], "range": ["black", "black", "black", "black"]}, "legend": {"title": "Agent:"}}
          }
        },
        {
          "transform": [{"filter": "datum.agent === 'CF₄'"}],
          "mark": {"type": "point", "strokeWidth": 1.1, "opacity": 1, "size": 80},
          "encoding": {
            "x": {"field": "x", "type": "quantitative", "axis": null},
            "y": {"field": "y", "type": "quantitative", "axis": null},
            "shape": {"field": "agent", "type": "nominal", "legend": {"title": "Agent:"}},
            "fill": {"field": "agent", "type": "nominal", "legend": {"title": "Agent:"}},
            "stroke": {"field": "agent", "type": "nominal", "legend": {"title": "Agent:"}}
          }
        },
        {
          "mark": {"type": "point", "opacity": 0},
          "encoding": {
            "x": {"field": "x", "type": "quantitative", "axis": {"orient": "bottom", "values": [0.1,0.2,0.3,0.4,0.6,0.7,0.8,0.9,1.1,1.2,1.3,1.4,1.6,1.7,1.8,1.9], "tickSize": -4, "labels": false, "title": null}},
            "y": {"field": "y", "type": "quantitative", "axis": {"orient": "left", "values": [-0.1,0.1,0.3,0.5,0.7,0.9,1.1], "tickSize": -4, "labels": false, "title": null}}
          }
        },
        {
          "mark": {"type": "point", "opacity": 0},
          "encoding": {
            "x": {"field": "x", "type": "quantitative", "axis": {"orient": "top", "values": [0, 0.5, 1, 1.5, 2], "tickSize": -8, "labels": false, "title": null}},
            "y": {"field": "y", "type": "quantitative", "axis": {"orient": "right", "values": [0, 0.2, 0.4, 0.6, 0.8, 1.0], "tickSize": -8, "labels": false, "title": null}}
          }
        },
        {
          "mark": {"type": "point", "opacity": 0},
          "encoding": {
            "x": {"field": "x", "type": "quantitative", "axis": {"orient": "top", "values": [0.1,0.2,0.3,0.4,0.6,0.7,0.8,0.9,1.1,1.2,1.3,1.4,1.6,1.7,1.8,1.9], "tickSize": -4, "labels": false, "title": null}},
            "y": {"field": "y", "type": "quantitative", "axis": {"orient": "right", "values": [-0.1,0.1,0.3,0.5,0.7,0.9,1.1], "tickSize": -4, "labels": false, "title": null}}
          }
        }
      ],
      "resolve": {"axis": {"x": "independent", "y": "independent"}}
    }
  ]
}
